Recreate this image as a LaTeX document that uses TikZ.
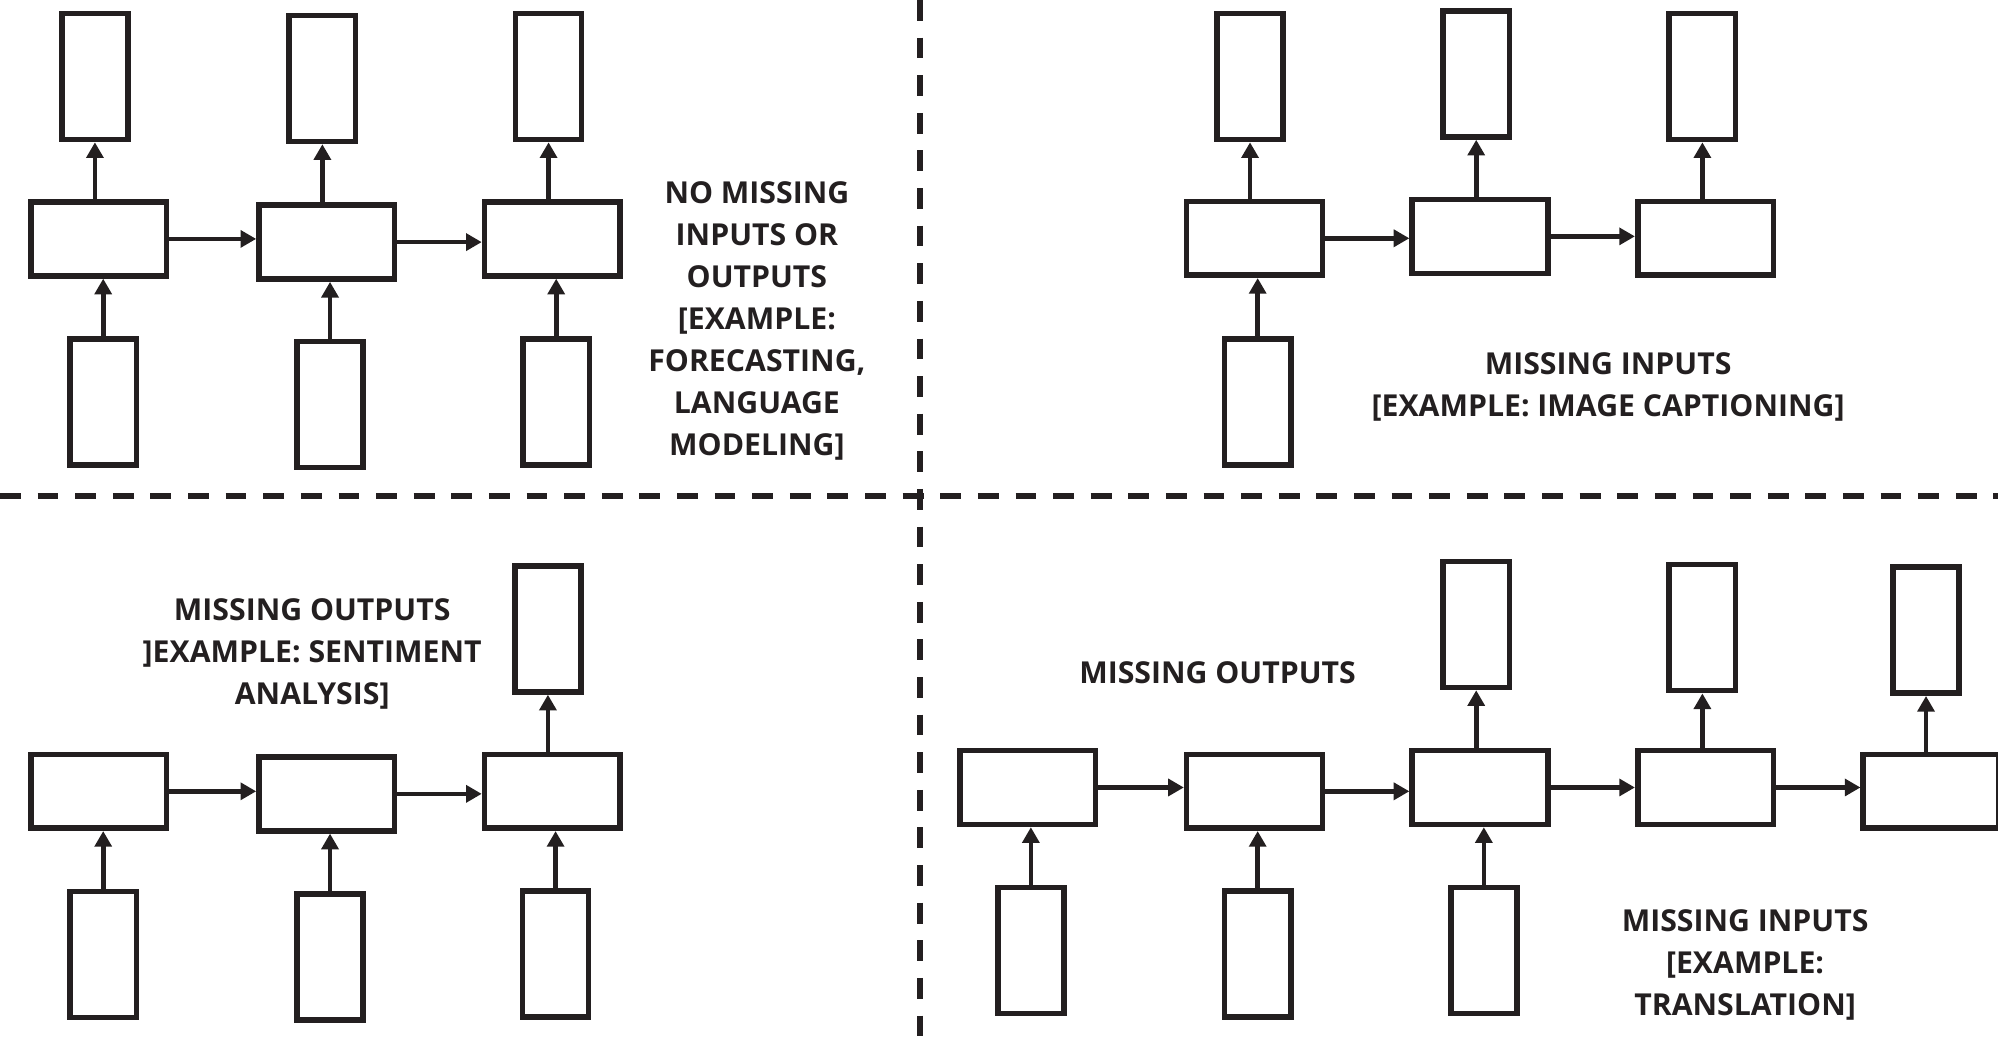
\documentclass[tikz,border=0pt]{standalone}
\usepackage{fontspec}
\setmainfont{Open Sans}
\usetikzlibrary{arrows.meta}
\definecolor{ink}{RGB}{35,31,32}

\begin{document}
\begin{tikzpicture}[x=0.02cm,y=-0.02cm,color=ink]
\tikzset{cell/.style={draw,line width=2.5pt,minimum width=2.13cm,minimum height=1.16cm,inner sep=0pt},
io/.style={draw,line width=2.5pt,minimum width=1.04cm,minimum height=1.98cm,inner sep=0pt},
link/.style={line width=2.1pt,-{Triangle[length=7pt,width=7.5pt]}},
divider/.style={line width=2.7pt,dash pattern=on 9.3pt off 7.5pt},
lbl/.style={font=\fontsize{13.5}{18.8}\selectfont\bfseries,align=center}}
\useasboundingbox (0,0) rectangle (1568,814);
\draw[divider] (722,0) -- (722,814);
\draw[divider] (0,389) -- (1568,389);
% no missing
\node[cell] (ah1) at (77.5,187.5) {};
\node[cell] (ah2) at (256.5,190) {};
\node[cell] (ah3) at (433.5,187.5) {};
\node[io] (ao1) at (74.5,60) {};
\node[io] (ao2) at (253,61.5) {};
\node[io] (ao3) at (430.5,60) {};
\node[io] (ai1) at (81,315.5) {};
\node[io] (ai2) at (259,317.5) {};
\node[io] (ai3) at (436.5,315.5) {};
\draw[link] (ah1.east) -- (ah1.east -| ah2.west);
\draw[link] (ah2.east) -- (ah2.east -| ah3.west);
\draw[link] (ao1.south |- ah1.north) -- (ao1.south);
\draw[link] (ao2.south |- ah2.north) -- (ao2.south);
\draw[link] (ao3.south |- ah3.north) -- (ao3.south);
\draw[link] (ai1.north) -- (ai1.north |- ah1.south);
\draw[link] (ai2.north) -- (ai2.north |- ah2.south);
\draw[link] (ai3.north) -- (ai3.north |- ah3.south);
\node[lbl] (atext) at (594,252) {NO MISSING\\INPUTS OR\\OUTPUTS\\{[EXAMPLE:}\\FORECASTING,\\LANGUAGE\\MODELING]};
% missing inputs
\node[cell] (bh1) at (984.5,187) {};
\node[cell] (bh2) at (1161.5,185.5) {};
\node[cell] (bh3) at (1338.5,187) {};
\node[io] (bo1) at (981,60) {};
\node[io] (bo2) at (1158.5,58) {};
\node[io] (bo3) at (1336,60) {};
\node[io] (bi1) at (987,315.5) {};
\draw[link] (bh1.east) -- (bh1.east -| bh2.west);
\draw[link] (bh2.east) -- (bh2.east -| bh3.west);
\draw[link] (bo1.south |- bh1.north) -- (bo1.south);
\draw[link] (bo2.south |- bh2.north) -- (bo2.south);
\draw[link] (bo3.south |- bh3.north) -- (bo3.south);
\draw[link] (bi1.north) -- (bi1.north |- bh1.south);
\node[lbl] (btext) at (1262,303.5) {MISSING INPUTS\\{[EXAMPLE: IMAGE CAPTIONING]}};
% missing outputs
\node[cell] (ch1) at (77.5,621) {};
\node[cell] (ch2) at (256.5,623) {};
\node[cell] (ch3) at (433.5,621) {};
\node[io] (co3) at (430,493.5) {};
\node[io] (ci1) at (81,749) {};
\node[io] (ci2) at (259,751) {};
\node[io] (ci3) at (436,748.5) {};
\draw[link] (ch1.east) -- (ch1.east -| ch2.west);
\draw[link] (ch2.east) -- (ch2.east -| ch3.west);
\draw[link] (co3.south |- ch3.north) -- (co3.south);
\draw[link] (ci1.north) -- (ci1.north |- ch1.south);
\draw[link] (ci2.north) -- (ci2.north |- ch2.south);
\draw[link] (ci3.north) -- (ci3.north |- ch3.south);
\node[lbl] (ctext) at (245,513) {MISSING OUTPUTS\\{]EXAMPLE: SENTIMENT}\\ANALYSIS]};
% both missing
\node[cell] (dh1) at (806.5,618) {};
\node[cell] (dh2) at (984.5,621) {};
\node[cell] (dh3) at (1161.5,618) {};
\node[cell] (dh4) at (1338.5,618) {};
\node[cell] (dh5) at (1515.5,621) {};
\node[io] (do3) at (1158.5,490) {};
\node[io] (do4) at (1336,492.5) {};
\node[io] (do5) at (1511.5,494.5) {};
\node[io] (di1) at (809,746) {};
\node[io] (di2) at (987,748.5) {};
\node[io] (di3) at (1164.5,746) {};
\draw[link] (dh1.east) -- (dh1.east -| dh2.west);
\draw[link] (dh2.east) -- (dh2.east -| dh3.west);
\draw[link] (dh3.east) -- (dh3.east -| dh4.west);
\draw[link] (dh4.east) -- (dh4.east -| dh5.west);
\draw[link] (do3.south |- dh3.north) -- (do3.south);
\draw[link] (do4.south |- dh4.north) -- (do4.south);
\draw[link] (do5.south |- dh5.north) -- (do5.south);
\draw[link] (di1.north) -- (di1.north |- dh1.south);
\draw[link] (di2.north) -- (di2.north |- dh2.south);
\draw[link] (di3.north) -- (di3.north |- dh3.south);
\node[lbl] (dtext1) at (955.5,528) {MISSING OUTPUTS};
\node[lbl] (dtext2) at (1369.5,757) {MISSING INPUTS\\{[EXAMPLE:}\\TRANSLATION]};
\end{tikzpicture}
\end{document}
